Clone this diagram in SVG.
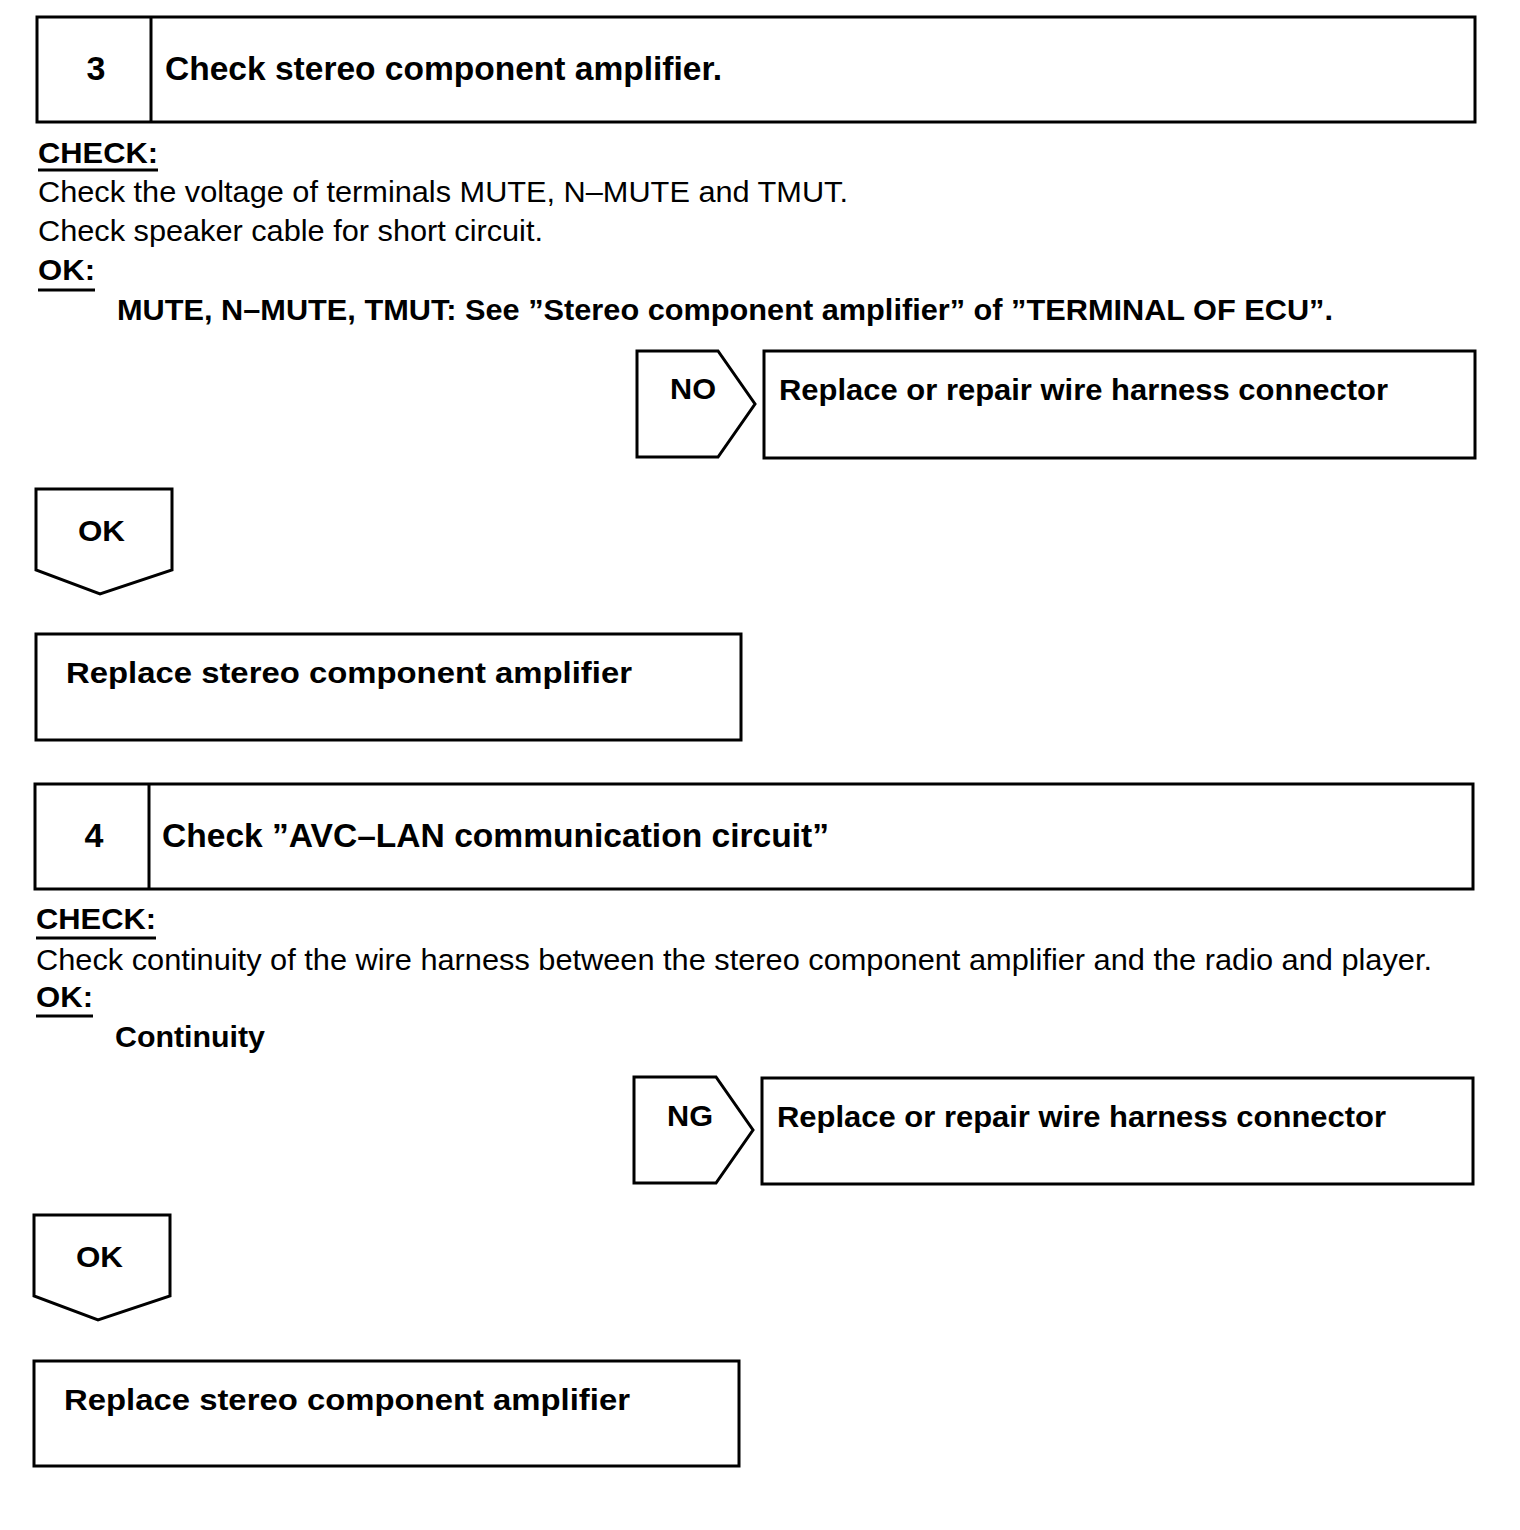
<svg xmlns="http://www.w3.org/2000/svg" width="1520" height="1530" viewBox="0 0 1520 1530">
<style>
.box{fill:#fff;stroke:#000;stroke-width:3}
.t{font-family:"Liberation Sans",Arial,sans-serif;fill:#000}
.b{font-weight:bold}
.h{font-size:34px}
.n{font-size:30px}
.ul{stroke:#000;stroke-width:3}
</style>
<rect width="1520" height="1530" fill="#fff"/>
<g id="step3">
<rect class="box" x="37" y="17" width="1438" height="105"/>
<line class="ul" x1="151" y1="17" x2="151" y2="122"/>
<text class="t b h" x="96" y="80" text-anchor="middle">3</text>
<text class="t b h" x="165" y="80" textLength="557" lengthAdjust="spacingAndGlyphs">Check stereo component amplifier.</text>
</g>
<g id="check3">
<text class="t b n" x="38" y="163" textLength="120" lengthAdjust="spacingAndGlyphs">CHECK:</text>
<line class="ul" x1="38" y1="170" x2="158" y2="170"/>
<text class="t n" x="38" y="202" textLength="810" lengthAdjust="spacingAndGlyphs">Check the voltage of terminals MUTE, N–MUTE and TMUT.</text>
<text class="t n" x="38" y="241" textLength="505" lengthAdjust="spacingAndGlyphs">Check speaker cable for short circuit.</text>
<text class="t b n" x="38" y="280" textLength="57" lengthAdjust="spacingAndGlyphs">OK:</text>
<line class="ul" x1="38" y1="290" x2="95" y2="290"/>
<text class="t b n" x="117" y="320" textLength="1216" lengthAdjust="spacingAndGlyphs">MUTE, N–MUTE, TMUT: See ”Stereo component amplifier” of ”TERMINAL OF ECU”.</text>
</g>
<g id="no3">
<polygon class="box" points="637,351 718,351 755,404 718,457 637,457"/>
<text class="t b n" x="670" y="399" textLength="46" lengthAdjust="spacingAndGlyphs">NO</text>
</g>
<g id="repair3">
<rect class="box" x="764" y="351" width="711" height="107"/>
<text class="t b n" x="779" y="400" textLength="609" lengthAdjust="spacingAndGlyphs">Replace or repair wire harness connector</text>
</g>
<g id="ok3">
<polygon class="box" points="36,489 172,489 172,570 100,594 36,570"/>
<text class="t b n" x="78" y="541" textLength="47" lengthAdjust="spacingAndGlyphs">OK</text>
</g>
<g id="replace3">
<rect class="box" x="36" y="634" width="705" height="106"/>
<text class="t b n" x="66" y="683" textLength="566" lengthAdjust="spacingAndGlyphs">Replace  stereo  component  amplifier</text>
</g>
<g id="step4">
<rect class="box" x="35" y="784" width="1438" height="105"/>
<line class="ul" x1="149" y1="784" x2="149" y2="889"/>
<text class="t b h" x="94" y="847" text-anchor="middle">4</text>
<text class="t b h" x="162" y="847" textLength="667" lengthAdjust="spacingAndGlyphs">Check ”AVC–LAN communication circuit”</text>
</g>
<g id="check4">
<text class="t b n" x="36" y="929" textLength="120" lengthAdjust="spacingAndGlyphs">CHECK:</text>
<line class="ul" x1="36" y1="938" x2="156" y2="938"/>
<text class="t n" x="36" y="970" textLength="1396" lengthAdjust="spacingAndGlyphs">Check continuity of the wire harness between the stereo component amplifier and the radio and player.</text>
<text class="t b n" x="36" y="1007" textLength="57" lengthAdjust="spacingAndGlyphs">OK:</text>
<line class="ul" x1="36" y1="1016" x2="93" y2="1016"/>
<text class="t b n" x="115" y="1047" textLength="150" lengthAdjust="spacingAndGlyphs">Continuity</text>
</g>
<g id="ng4">
<polygon class="box" points="634,1077 716,1077 753,1130 716,1183 634,1183"/>
<text class="t b n" x="667" y="1126" textLength="46" lengthAdjust="spacingAndGlyphs">NG</text>
</g>
<g id="repair4">
<rect class="box" x="762" y="1078" width="711" height="106"/>
<text class="t b n" x="777" y="1127" textLength="609" lengthAdjust="spacingAndGlyphs">Replace or repair wire harness connector</text>
</g>
<g id="ok4">
<polygon class="box" points="34,1215 170,1215 170,1296 98,1320 34,1296"/>
<text class="t b n" x="76" y="1267" textLength="47" lengthAdjust="spacingAndGlyphs">OK</text>
</g>
<g id="replace4">
<rect class="box" x="34" y="1361" width="705" height="105"/>
<text class="t b n" x="64" y="1410" textLength="566" lengthAdjust="spacingAndGlyphs">Replace  stereo  component  amplifier</text>
</g>
<g id="connectors"></g>
</svg>
